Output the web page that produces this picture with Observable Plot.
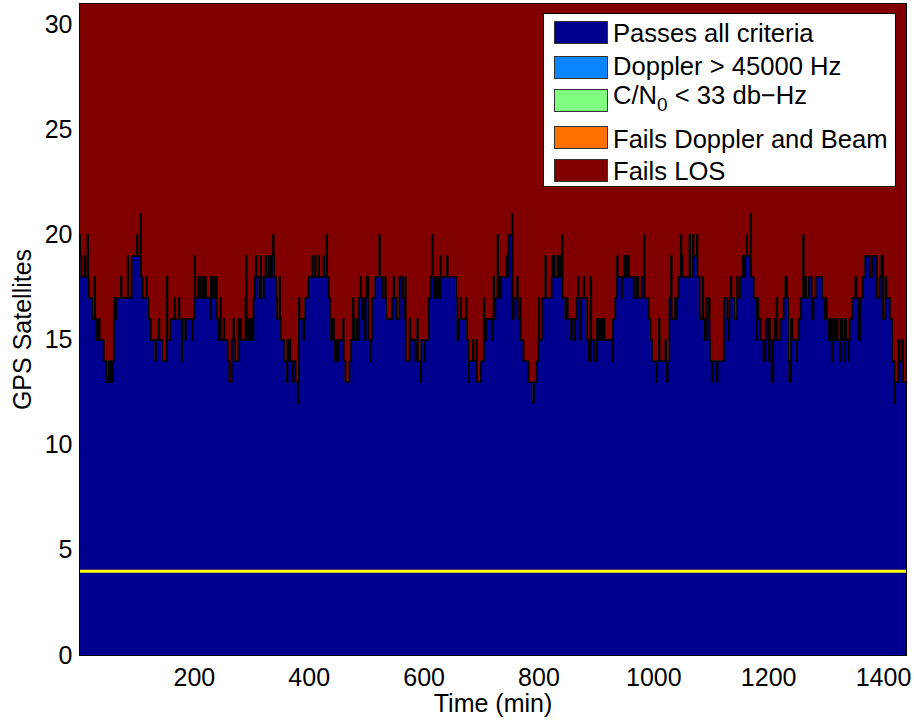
<!DOCTYPE html>
<html><head><meta charset="utf-8">
<script src="https://cdn.jsdelivr.net/npm/d3@7"></script>
<script src="https://cdn.jsdelivr.net/npm/@observablehq/plot@0.6"></script>
<style>
body{margin:0;background:#fff;font-family:"Liberation Sans",Arial,Helvetica,sans-serif;}
#wrap{position:relative;width:914px;height:721px;overflow:hidden;}
#legend{position:absolute;left:543px;top:13px;width:353px;height:174px;background:#fff;border:1px solid #000;box-sizing:border-box;}
.sw{position:absolute;left:10px;width:54px;height:23px;box-sizing:border-box;border:1px solid #333;}
.lt{position:absolute;left:69px;font-size:25.6px;line-height:25px;color:#000;white-space:nowrap;}
.lt sub{font-size:19px;vertical-align:-7px;line-height:0;}
</style></head>
<body><div id="wrap"></div>
<script>
// ---- data ----
const totalSats = 31;
const thresholdLine = [4];
const xTicks = [200, 400, 600, 800, 1000, 1200, 1400];
const yTicks = [0, 5, 10, 15, 20, 25, 30];
const seriesNames = ["Passes all criteria", "Doppler > 45000 Hz", "C/N0 < 33 db-Hz", "Fails Doppler and Beam", "Fails LOS"];
const seriesColors = ["#00008f", "#0a84ff", "#80ff80", "#ff7000", "#800000"];
// time (min) at which the count of satellites passing all criteria changes
const changeMinutes = [
0,1,3,8,10,14,15,16,22,26,27,30,33,35,42,47,51,52,54,55,58,60,62,64,72,73,84,85,91,100,101,106,107,110,116,117,120,124,132,133,138,139,144,152,153,158,165,166,173,174,178,179,184,185,196,197,200,201,206,207,210,211,215,216,219,220,228,229,231,234,235,
238,239,242,245,246,251,252,258,261,265,268,269,271,277,278,280,281,289,290,291,293,296,298,300,303,305,307,308,313,315,316,320,321,324,325,329,330,333,334,335,337,338,339,342,344,348,349,351,356,360,362,364,366,367,370,371,376,380,381,382,383,390,391,393,398,405,406,410,411,416,417,425,426,430,431,434,436,438,440,443,445,448,449,451,459,460,463,470,473,476,477,
479,483,484,486,489,490,492,494,497,498,500,503,506,507,509,515,522,523,528,532,533,534,544,547,548,552,557,563,566,567,568,575,576,585,588,589,593,595,600,601,608,611,614,615,617,618,622,624,625,628,629,640,641,656,658,660,663,664,673,674,675,677,678,685,686,691,692,699,704,705,708,718,719,721,722,
724,728,729,731,733,734,744,745,747,753,754,756,762,763,767,768,773,782,790,791,796,799,800,805,811,812,822,823,824,826,827,832,833,834,835,837,840,841,846,848,850,856,857,862,863,865,868,869,871,872,878,879,884,887,890,891,897,901,902,904,906,908,910,912,914,927,929,933,936,937,944,945,948,949,952,953,956,957,965,
966,970,972,973,979,983,984,991,994,997,1004,1005,1009,1010,1020,1021,1023,1024,1027,1030,1031,1037,1038,1040,1043,1047,1048,1050,1062,1063,1068,1069,1075,1076,1080,1085,1086,1088,1091,1092,1096,1097,1098,1101,1102,1110,1111,1122,1128,1130,1131,1132,1134,1135,1140,1145,1146,1150,1155,1156,1159,1161,1162,1168,1169,1174,1178,1179,1182,1186,1191,1194,1195,1200,1201,1202,1205,
1208,1210,1211,1212,1214,1215,1220,1226,1229,1232,1234,1236,1239,1241,1248,1249,1252,1256,1260,1261,1264,1265,1270,1275,1278,1282,1293,1298,1300,1301,1304,1305,1308,1310,1311,1315,1318,1320,1324,1325,1328,1331,1332,1335,1339,1340,1341,1345,1351,1353,1357,1359,1364,1368,1376,1380,1388,1393,1396,1399,1403,1405,1411,1415,1419,1420,1426,1428,1433,1434
];
// number of satellites passing all criteria from each change time on
const passingCount = [
20,19,18,19,18,20,18,17,16,18,16,15,16,15,14,13,14,13,14,13,14,17,16,17,18,17,19,17,19,20,19,21,18,17,18,17,16,15,14,15,16,15,14,18,15,16,17,16,17,16,14,16,15,16,15,16,19,17,18,17,18,17,18,17,18,17,16,18,17,18,17,
18,16,15,17,15,16,15,14,13,15,16,15,14,16,15,16,15,17,19,15,16,15,16,15,17,18,19,18,17,19,18,17,18,19,18,19,18,19,18,19,20,19,18,17,16,18,16,15,14,13,15,14,15,14,13,14,13,12,13,17,16,15,16,17,18,19,18,19,18,19,18,19,18,20,18,17,16,15,16,15,14,15,14,15,16,14,13,14,15,17,16,
15,16,15,17,18,17,16,17,15,17,18,15,14,15,17,18,20,18,17,18,17,16,17,18,17,16,18,17,16,18,14,16,15,14,16,14,13,15,14,15,17,18,20,18,17,18,17,18,17,19,18,19,18,17,15,16,17,16,17,16,15,13,14,15,14,15,13,14,17,15,16,15,16,18,16,
17,20,17,18,17,18,19,18,20,21,16,17,18,16,17,15,14,13,12,13,14,17,15,17,19,17,18,19,18,19,18,19,18,19,18,19,20,17,16,17,16,15,16,15,16,17,18,17,15,17,18,17,15,14,18,15,14,16,15,16,15,16,15,16,15,14,16,17,19,18,17,18,19,18,19,18,19,18,17,
18,17,18,17,18,20,17,16,15,14,13,14,16,14,15,14,13,14,17,19,16,17,16,17,18,20,19,18,20,18,20,19,20,18,16,18,16,15,17,16,17,15,14,13,14,13,14,17,16,15,16,17,18,17,16,18,17,18,19,18,19,20,19,21,18,17,15,17,16,15,14,15,16,14,16,15,13,
15,16,15,16,17,15,16,17,18,17,14,13,16,15,14,15,16,17,20,17,18,17,18,16,17,18,17,16,17,16,15,16,15,14,16,15,16,15,14,16,15,14,16,15,14,15,16,17,18,17,15,17,18,19,18,19,17,18,19,16,18,17,16,14,12,13,15,14,15,13
];
const endMinute = 1440;

const rows = changeMinutes.map((t, i) => ({t, pass: passingCount[i]}));
rows.push({t: endMinute, pass: passingCount[passingCount.length - 1]});

const font = "'Liberation Sans', Arial, Helvetica, sans-serif";
const chart = Plot.plot({
  width: 914, height: 721,
  marginLeft: 79, marginRight: 8, marginTop: 3, marginBottom: 66,
  style: {fontFamily: font, fontSize: "25px", background: "#fff", color: "#000"},
  x: {domain: [0, endMinute]},
  y: {domain: [0, totalSats]},
  marks: [
    Plot.areaY(rows, {x: "t", y1: 0, y2: "pass", curve: "step-after", fill: seriesColors[0]}),
    Plot.areaY(rows, {x: "t", y1: "pass", y2: totalSats, curve: "step-after", fill: seriesColors[4]}),
    Plot.lineY(rows, {x: "t", y: "pass", curve: "step-after", stroke: "#000", strokeWidth: 1.8}),
    Plot.ruleY(thresholdLine, {stroke: "#ffff00", strokeWidth: 3}),
    Plot.frame({stroke: "#000", strokeWidth: 1}),
    Plot.axisX(xTicks, {tickSize: 0, tickPadding: 13, fontSize: 25, tickFormat: d => String(d), label: "Time (min)", labelAnchor: "center", labelOffset: 56, labelArrow: "none"}),
    Plot.axisY(yTicks, {tickSize: 0, tickPadding: 7, fontSize: 25, tickFormat: d => String(d), label: "GPS Satellites", labelAnchor: "center", labelOffset: 66, labelArrow: "none"})
  ]
});
const wrap = document.getElementById("wrap");
wrap.appendChild(chart);

// legend (drawn as HTML over the plot area)
const legend = document.createElement("div");
legend.id = "legend";
const swTops = [7, 42, 75, 112, 145];
const txtTops = [7, 40, 69, 113, 145];
seriesNames.forEach((name, i) => {
  const sw = document.createElement("div");
  sw.className = "sw";
  sw.style.top = swTops[i] + "px";
  sw.style.background = seriesColors[i];
  legend.appendChild(sw);
  const tx = document.createElement("div");
  tx.className = "lt";
  tx.style.top = txtTops[i] + "px";
  if (name.startsWith("C/N0")) {
    tx.innerHTML = "C/N<sub>0</sub> &lt; 33 db\u2212Hz";
  } else {
    tx.textContent = name;
  }
  legend.appendChild(tx);
});
wrap.appendChild(legend);
</script>
</body></html>
